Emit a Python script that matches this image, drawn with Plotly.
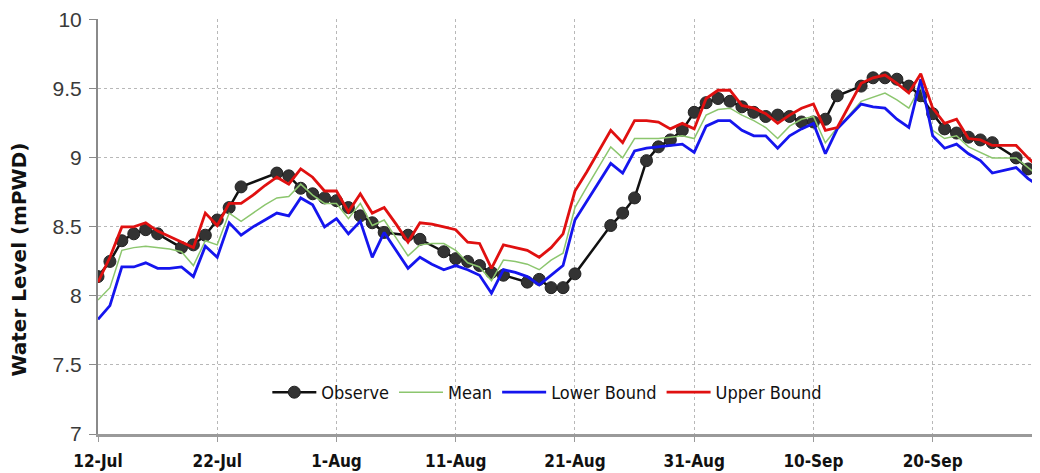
import datetime as dt
import plotly.graph_objects as go

START = dt.date(2010, 7, 12)

# Observed water level: day offset from 12-Jul and value (mPWD)
obs_day = [0, 1, 2, 3, 4, 5, 7, 8, 9, 10, 11, 12, 15, 16, 17, 18, 19, 20, 21, 22,
           23, 24, 26, 27, 29, 30, 31, 32, 33, 34, 36, 37, 38, 39, 40, 43, 44, 45,
           46, 47, 48, 49, 50, 51, 52, 53, 54, 55, 56, 57, 58, 59, 60, 61, 62, 64,
           65, 66, 67, 68, 69, 70, 71, 72, 73, 74, 75, 77, 78, 79]
obs_val = [8.14, 8.25, 8.40, 8.45, 8.48, 8.45, 8.35, 8.37, 8.44, 8.55, 8.64, 8.79,
           8.89, 8.87, 8.78, 8.74, 8.71, 8.69, 8.64, 8.58, 8.53, 8.46, 8.44, 8.41,
           8.32, 8.27, 8.25, 8.22, 8.17, 8.15, 8.10, 8.12, 8.06, 8.06, 8.16, 8.51,
           8.60, 8.71, 8.98, 9.08, 9.13, 9.20, 9.33, 9.40, 9.43, 9.41, 9.37, 9.33,
           9.30, 9.31, 9.30, 9.26, 9.26, 9.28, 9.45, 9.52, 9.58, 9.58, 9.57, 9.52,
           9.45, 9.32, 9.21, 9.18, 9.15, 9.13, 9.11, 9.00, 8.92, 8.84]

# Model series, daily from 12-Jul (day 0) to 29-Sep (day 79)
mean_val = [7.97, 8.06, 8.33, 8.35, 8.36, 8.35, 8.34, 8.32, 8.22, 8.40,
            8.37, 8.60, 8.54, 8.60, 8.66, 8.71, 8.72, 8.81, 8.73, 8.67,
            8.67, 8.56, 8.67, 8.51, 8.55, 8.42, 8.29, 8.37, 8.38, 8.38,
            8.33, 8.24, 8.21, 8.11, 8.26, 8.25, 8.23, 8.19, 8.26, 8.31,
            8.64, 8.79, 8.94, 9.08, 9.00, 9.14, 9.14, 9.14, 9.15, 9.16,
            9.14, 9.31, 9.35, 9.36, 9.31, 9.27, 9.22, 9.14, 9.23, 9.28,
            9.30, 9.11, 9.22, 9.31, 9.41, 9.44, 9.47, 9.42, 9.36, 9.52,
            9.20, 9.14, 9.16, 9.08, 9.04, 9.00, 9.00, 9.00, 8.93, 8.86]
lower_val = [7.83, 7.93, 8.21, 8.21, 8.24, 8.20, 8.20, 8.21, 8.14, 8.36,
             8.28, 8.53, 8.44, 8.50, 8.55, 8.60, 8.58, 8.71, 8.66, 8.50,
             8.56, 8.45, 8.54, 8.28, 8.46, 8.33, 8.20, 8.28, 8.23, 8.19,
             8.22, 8.19, 8.15, 8.02, 8.19, 8.17, 8.14, 8.08, 8.15, 8.22,
             8.55, 8.69, 8.83, 8.96, 8.89, 9.05, 9.07, 9.08, 9.09, 9.10,
             9.04, 9.23, 9.27, 9.27, 9.20, 9.16, 9.16, 9.07, 9.16, 9.21,
             9.25, 9.03, 9.21, 9.30, 9.39, 9.37, 9.36, 9.28, 9.22, 9.57,
             9.16, 9.07, 9.10, 9.03, 8.98, 8.89, 8.91, 8.93, 8.85, 8.79]
upper_val = [8.10, 8.28, 8.50, 8.50, 8.53, 8.47, 8.43, 8.39, 8.35, 8.60,
             8.51, 8.67, 8.67, 8.73, 8.80, 8.86, 8.81, 8.92, 8.86, 8.76,
             8.76, 8.61, 8.74, 8.60, 8.64, 8.52, 8.39, 8.53, 8.52, 8.50,
             8.48, 8.39, 8.38, 8.20, 8.37, 8.35, 8.33, 8.28, 8.35, 8.45,
             8.76, 8.90, 9.05, 9.20, 9.11, 9.27, 9.27, 9.26, 9.21, 9.25,
             9.21, 9.43, 9.49, 9.49, 9.38, 9.36, 9.32, 9.25, 9.31, 9.36,
             9.39, 9.20, 9.22, 9.38, 9.54, 9.58, 9.60, 9.54, 9.47, 9.61,
             9.36, 9.25, 9.28, 9.14, 9.13, 9.09, 9.09, 9.09, 9.00, 8.92]

obs_dates = [START + dt.timedelta(days=d) for d in obs_day]
model_dates = [START + dt.timedelta(days=d) for d in range(len(mean_val))]

NARROW = "DejaVu Sans Condensed, Liberation Sans Narrow, Arial Narrow, sans-serif"

fig = go.Figure()
fig.add_trace(go.Scatter(x=obs_dates, y=obs_val, name="Observe", mode="lines+markers",
                         line=dict(color="#111111", width=2.5),
                         marker=dict(size=12, color="#333333", line=dict(color="#222222", width=1))))
fig.add_trace(go.Scatter(x=model_dates, y=mean_val, name="Mean", mode="lines",
                         line=dict(color="#8cc66e", width=1.5)))
fig.add_trace(go.Scatter(x=model_dates, y=lower_val, name="Lower Bound", mode="lines",
                         line=dict(color="#1515ee", width=2.8)))
fig.add_trace(go.Scatter(x=model_dates, y=upper_val, name="Upper Bound", mode="lines",
                         line=dict(color="#e01010", width=2.8)))

fig.update_layout(
    width=1032, height=465,
    margin=dict(l=90, r=0, t=11, b=39, autoexpand=False),
    paper_bgcolor="white", plot_bgcolor="white",
    showlegend=True,
    legend=dict(orientation="h", x=0.477, y=0.10, xanchor="center", yanchor="middle",
                bgcolor="rgba(255,255,255,0)", itemwidth=44,
                font=dict(family=NARROW, size=18, color="#111111"),
                traceorder="normal"),
    xaxis=dict(
        type="date", automargin=False,
        range=["2010-07-12", "2010-09-29"],
        tick0="2010-07-12", dtick=10 * 86400000,
        tickformat="<b>%-d-%b</b>",
        showgrid=True, gridcolor="#b8b8b8", griddash="dot", gridwidth=1,
        showline=True, linecolor="#9a9a9a", linewidth=3,
        ticks="outside", ticklen=5, tickcolor="#9a9a9a",
        ticklabelstandoff=5,
        tickfont=dict(family=NARROW, size=17, color="#111111"),
        zeroline=False,
    ),
    yaxis=dict(
        automargin=False,
        range=[7, 10.006], dtick=0.5,
        showgrid=True, gridcolor="#b8b8b8", griddash="dot", gridwidth=1,
        showline=True, linecolor="#8a8a8a", linewidth=2,
        ticks="outside", ticklen=7, tickcolor="#8a8a8a",
        ticklabelstandoff=3, ticklabeloverflow="allow",
        tickfont=dict(family="Liberation Sans, Arial, sans-serif", size=21, color="#3a3a3a"),
        zeroline=False,
    ),
    annotations=[dict(
        text="<b>Water Level (mPWD)</b>", textangle=-90,
        xref="paper", yref="paper", x=-0.084, y=0.42,
        xanchor="center", yanchor="middle", showarrow=False,
        font=dict(family="DejaVu Sans, Verdana, sans-serif", size=20, color="#111111"),
    )],
)

fig.write_html("out.html")
